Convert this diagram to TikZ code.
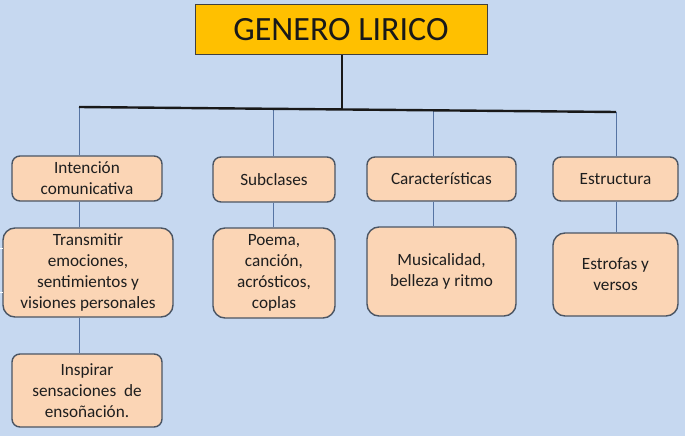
\documentclass[tikz,border=0pt]{standalone}
\usepackage{fontspec}
\setmainfont{Carlito}
\definecolor{bgblue}{HTML}{C6D8F0}
\definecolor{peach}{HTML}{FBD5B5}
\definecolor{boxline}{HTML}{4B5563}
\definecolor{gold}{HTML}{FFC000}
\definecolor{thinline}{HTML}{5674A3}
\definecolor{txt}{HTML}{1E1E1E}
\begin{document}
\begin{tikzpicture}[x=1pt,y=-1pt,
  peachbox/.style={draw=boxline, line width=1.4pt, fill=peach, rounded corners=8pt,
    inner sep=0pt, align=center, text=txt, font=\fontsize{17.2}{20.8}\selectfont},
  bigbox/.style={peachbox, rounded corners=12pt},
  titlebox/.style={draw=black!75, line width=1pt, fill=gold, inner sep=0pt,
    text=black!90, font=\fontsize{34}{38}\selectfont},
  thin/.style={draw=thinline, line width=0.8pt},
  thick/.style={draw=black!90, line width=2.4pt},
  stem/.style={draw=black!90, line width=1.8pt}]
\useasboundingbox (0,0) rectangle (685,436);
\fill[bgblue] (0,0) rectangle (685,436);

% title
\node[titlebox, minimum width=292pt, minimum height=50pt] (title) at (341,30) {GENERO LIRICO};

% first row
\node[peachbox, minimum width=150pt, minimum height=45pt] (b1) at (87,178.5) {Intención\\comunicativa};
\node[peachbox, minimum width=122pt, minimum height=45pt] (b2) at (274,179.5) {Subclases};
\node[peachbox, minimum width=149pt, minimum height=44pt] (b3) at (441.5,179) {Características};
\node[peachbox, minimum width=125pt, minimum height=44pt] (b4) at (615.5,179) {Estructura};

% second row
\node[bigbox, minimum width=170pt, minimum height=89pt] (r1) at (88,272.5) {Transmitir\\emociones,\\sentimientos y\\visiones personales};
\node[bigbox, minimum width=122pt, minimum height=90pt] (r2) at (274,273) {Poema,\\canción,\\acrósticos,\\coplas};
\node[bigbox, minimum width=149pt, minimum height=89pt] (r3) at (441.5,271.5) {Musicalidad,\\belleza y ritmo};
\node[bigbox, minimum width=125pt, minimum height=83pt] (r4) at (615.5,274.5) {Estrofas y\\versos};

% third row
\node[peachbox, minimum width=150pt, minimum height=73pt] (r5) at (87,390.5) {Inspirar\\sensaciones~ de\\ensoñación.};

% bar coordinates
\coordinate (hl) at (79,107);
\coordinate (hr) at (616,112);
\coordinate (h2) at (273,109);
\coordinate (h3) at (433,110.5);
\coordinate (hm) at (342,109.5);

% connectors
\draw[thin] (hl) -- (hl |- b1.north);
\draw[thin] (h2) -- (h2 |- b2.north);
\draw[thin] (h3) -- (h3 |- b3.north);
\draw[thin] (hr) -- (hr |- b4.north);
\draw[thin] (hl |- b1.south) -- (hl |- r1.north);
\draw[thin] (h2 |- b2.south) -- (h2 |- r2.north);
\draw[thin] (h3 |- b3.south) -- (h3 |- r3.north);
\draw[thin] (hr |- b4.south) -- (hr |- r4.north);
\draw[thin] (hl |- r1.south) -- (hl |- r5.north);
\draw[stem] (title.south -| hm) -- (hm);
\draw[thick] (hl) -- (hr);

% small ticks at left edge
\coordinate (t1) at (0,248);
\coordinate (t2) at (0,292);
\draw[white, line width=1pt] (t1) -- ++(3,0);
\draw[white, line width=1pt] (t2) -- ++(3,0);
\end{tikzpicture}
\end{document}
